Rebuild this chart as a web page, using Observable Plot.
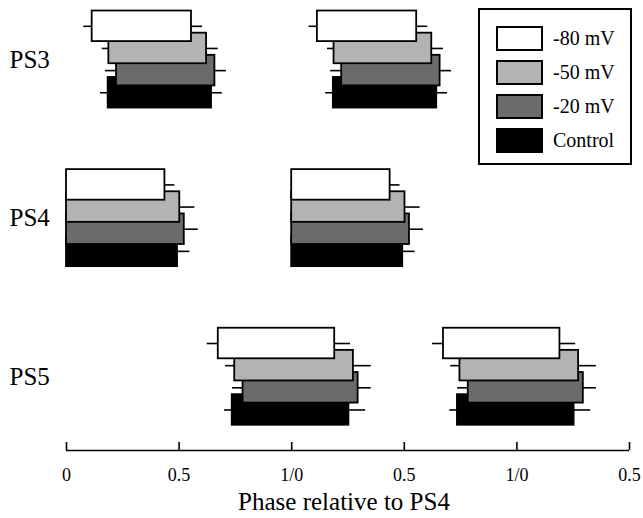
<!DOCTYPE html>
<html>
<head>
<meta charset="utf-8">
<script src="https://cdn.jsdelivr.net/npm/d3@7"></script>
<script src="https://cdn.jsdelivr.net/npm/@observablehq/plot@0.6"></script>
<style>
  body { margin: 0; background: #fff; }
  #wrap { position: relative; width: 643px; height: 518px; font-family: "Liberation Serif", "Times New Roman", serif; }
  #wrap svg { display: block; }
  #legend { position: absolute; left: 478px; top: 8px; width: 154px; height: 157px; box-sizing: border-box;
            border: 2px solid #000; background: #fff; }
  .item { position: absolute; left: 16px; height: 25px; display: flex; align-items: center; }
  .sw { width: 47px; height: 25px; box-sizing: border-box; border: 2px solid #000; }
  .lab { margin-left: 10px; font-size: 20px; color: #000; white-space: nowrap; }
</style>
</head>
<body>
<div id="wrap"></div>
<script>
// ---- data (phase relative to PS4 onset) ----
const stages = ["PS3", "PS4", "PS5"];
const conditions = ["-80 mV", "-50 mV", "-20 mV", "Control"];
const colors = ["#ffffff", "#b3b3b3", "#6b6b6b", "#000000"];

const onsetPS3     = [0.114, 0.188, 0.222, 0.185];
const offsetPS3    = [0.555, 0.622, 0.659, 0.644];
const onsetErrPS3  = [0.037, 0.029, 0.049, 0.034];
const offsetErrPS3 = [0.049, 0.052, 0.051, 0.048];

const onsetPS4     = [0, 0, 0, 0];
const offsetPS4    = [0.437, 0.503, 0.523, 0.493];
const onsetErrPS4  = [0, 0, 0, 0];
const offsetErrPS4 = [0.044, 0.067, 0.062, 0.055];

const onsetPS5     = [0.674, 0.747, 0.784, 0.736];
const offsetPS5    = [1.191, 1.274, 1.295, 1.254];
const onsetErrPS5  = [0.049, 0.041, 0.047, 0.034];
const offsetErrPS5 = [0.070, 0.079, 0.058, 0.074];

const cycles = [0, 1]; // double-plotted
const tickValues = [0, 0.5, 1, 1.5, 2, 2.5];
const tickLabels = ["0", "0.5", "1/0", "0.5", "1/0", "0.5"];
const axisTitle = "Phase relative to PS4";

// ---- layout (row units on a linear y scale, top to bottom) ----
const groupStep = 7.16;
const halfBar = 0.69;
const yMin = -1.165, yMax = 19.15;

const stageSeries = [
  {onset: onsetPS3, offset: offsetPS3, onsetErr: onsetErrPS3, offsetErr: offsetErrPS3},
  {onset: onsetPS4, offset: offsetPS4, onsetErr: onsetErrPS4, offsetErr: offsetErrPS4},
  {onset: onsetPS5, offset: offsetPS5, onsetErr: onsetErrPS5, offsetErr: offsetErrPS5}
];

const rows = [];
stages.forEach((stage, g) => {
  const s = stageSeries[g];
  conditions.forEach((cond, c) => {
    cycles.forEach(k => {
      rows.push({
        stage, cond, c, g,
        row: g * groupStep + c,
        x1: s.onset[c] + k,
        x2: s.offset[c] + k,
        e1: s.onset[c] - s.onsetErr[c] + k,
        e2: s.offset[c] + s.offsetErr[c] + k,
        hasOnsetErr: s.onsetErr[c] > 0
      });
    });
  });
});

const marks = [];
for (const c of [3, 2, 1, 0]) { // Control drawn first, -80 mV on top
  const sub = rows.filter(d => d.c === c);
  marks.push(
    Plot.ruleY(sub.filter(d => d.hasOnsetErr), {y: "row", x1: "e1", x2: "x1", stroke: "#000", strokeWidth: 1.6}),
    Plot.ruleY(sub, {y: "row", x1: "x2", x2: "e2", stroke: "#000", strokeWidth: 1.6}),
    Plot.rect(sub, {x1: "x1", x2: "x2", y1: d => d.row - halfBar, y2: d => d.row + halfBar,
                    fill: "cond", stroke: "#000", strokeWidth: 1.8})
  );
}

const chart = Plot.plot({
  width: 643,
  height: 518,
  marginLeft: 66,
  marginRight: 14,
  marginTop: 0,
  marginBottom: 68,
  style: {fontFamily: "Liberation Serif, Times New Roman, serif", background: "#fff", color: "#000"},
  x: {domain: [0, 2.5], axis: null},
  y: {domain: [yMin, yMax], reverse: true, axis: null},
  color: {domain: conditions, range: colors},
  marks: [
    ...marks,
    // baseline of the x axis
    Plot.ruleY([yMax], {stroke: "#000", strokeWidth: 1.6}),
    // upward ticks
    Plot.tickX(tickValues, {x: d => d, insetTop: 442, stroke: "#000", strokeWidth: 1.6}),
    // tick labels
    Plot.text(tickValues, {x: d => d, text: (d, i) => tickLabels[i], frameAnchor: "bottom", lineAnchor: "middle",
                           dy: 25, fontSize: 18, fill: "#000"}),
    // axis title
    Plot.text([axisTitle], {text: d => d, frameAnchor: "bottom", lineAnchor: "middle",
                            dx: -4, dy: 51, fontSize: 25, fill: "#000"}),
    // stage labels
    Plot.text(stages, {text: d => d, y: (d, i) => i * groupStep + 1.5, frameAnchor: "left", lineAnchor: "middle",
                       textAnchor: "start", dx: -57, fontSize: 25, fill: "#000"})
  ]
});

const wrap = document.getElementById("wrap");
wrap.appendChild(chart);

// legend
const legend = document.createElement("div");
legend.id = "legend";
conditions.forEach((cond, i) => {
  const item = document.createElement("div");
  item.className = "item";
  item.style.top = (16 + i * 34) + "px";
  const sw = document.createElement("div");
  sw.className = "sw";
  sw.style.background = colors[i];
  const lab = document.createElement("span");
  lab.className = "lab";
  lab.textContent = cond;
  item.appendChild(sw);
  item.appendChild(lab);
  legend.appendChild(item);
});
wrap.appendChild(legend);
</script>
</body>
</html>
